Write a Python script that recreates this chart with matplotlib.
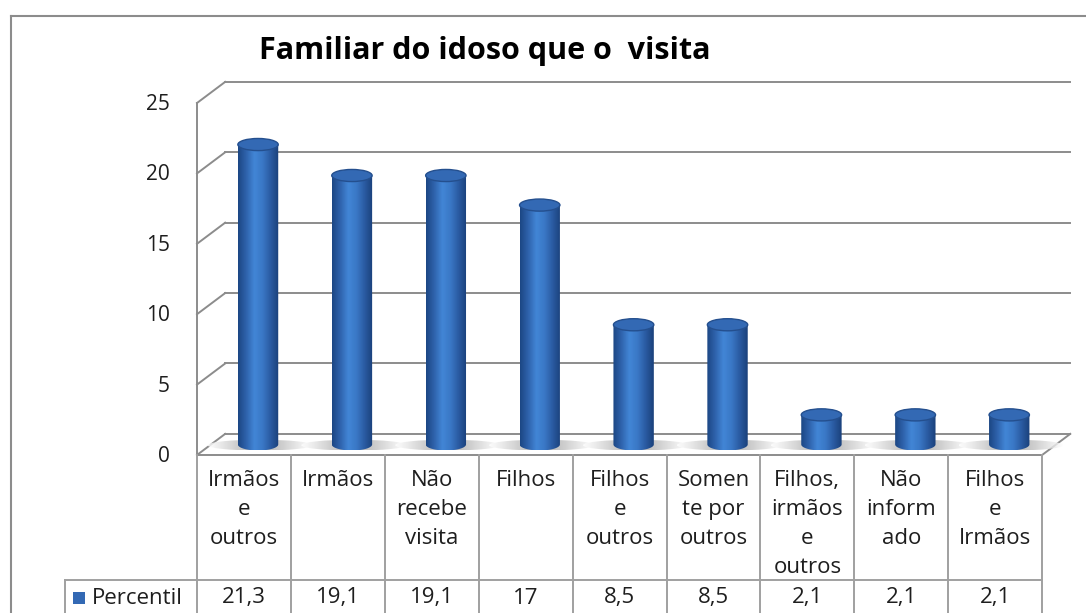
import numpy as np
import matplotlib
matplotlib.use("Agg")
import matplotlib.pyplot as plt
from matplotlib.patches import Ellipse, PathPatch, Rectangle
from matplotlib.path import Path
from matplotlib.colors import LinearSegmentedColormap
from matplotlib.lines import Line2D

# data
title = "Familiar do idoso que o  visita"
categories = ["Irmãos\ne\noutros", "Irmãos", "Não\nrecebe\nvisita", "Filhos",
              "Filhos\ne\noutros", "Somen\nte por\noutros", "Filhos,\nirmãos\ne\noutros",
              "Não\ninform\nado", "Filhos\ne\nIrmãos"]
values = [21.3, 19.1, 19.1, 17, 8.5, 8.5, 2.1, 2.1, 2.1]
labels = ["21,3", "19,1", "19,1", "17", "8,5", "8,5", "2,1", "2,1", "2,1"]
series_name = "Percentil"
yticks = [0, 5, 10, 15, 20, 25]

# layout in pixels
W, H = 1086, 613
X0_PX, COL_PX = 197, 93.9
Y0_PX, UNIT_PX = 455, 14.08
DX, DY = 0.3, 1.5          # depth offset (columns, value units)
HW, EH = 0.215, 0.43       # cylinder half width, ellipse half height

def px(x):
    return (x - X0_PX) / COL_PX

def py(y):
    return (Y0_PX - y) / UNIT_PX

plt.rcParams['font.family'] = ['Open Sans', 'DejaVu Sans']
fig = plt.figure(figsize=(W / 100, H / 100), dpi=100)
ax = fig.add_axes([0, 0, 1, 1])
ax.axis("off")

grid_c = "#8c8c8c"
txt_c = "#1e1e1e"
n = len(values)

# outer border
fig.add_artist(Line2D([11 / W, 11 / W], [0, 1 - 16 / H], color=grid_c, lw=1.5))
fig.add_artist(Line2D([11 / W, 1], [1 - 16 / H, 1 - 16 / H], color=grid_c, lw=1.5))

# walls and gridlines
for t in yticks:
    ax.plot([0, DX], [t, t + DY], color=grid_c, lw=1.4, zorder=1)
    ax.plot([DX, n + DX], [t + DY, t + DY], color=grid_c, lw=1.4, zorder=1)
    ax.text(px(170), t - 0.1, str(t), ha="right", va="center", fontsize=15, color=txt_c)
ax.plot([0, 0], [0, yticks[-1]], color=grid_c, lw=1.4, zorder=1)
# floor
ax.plot([0, n], [0, 0], color=grid_c, lw=1.4, zorder=1)
ax.plot([n, n + DX], [0, DY], color=grid_c, lw=1.4, zorder=1)

# cylinders
cmap = LinearSegmentedColormap.from_list(
    "cyl", ["#1c4784", "#2f63ad", "#4286d6", "#3a78c6", "#2a5ba2", "#1a417b"])
shade = LinearSegmentedColormap.from_list(
    "shade", ["#ffffff", "#c8c8c8", "#9a9a9a", "#c8c8c8", "#ffffff"])
grad = np.linspace(0, 1, 64)[None, :]
for i, v in enumerate(values):
    cx = i + 0.5 + DX / 2
    base = DY / 2
    top = v + DY / 2
    # floor shadow band
    sh = Ellipse((cx + 0.02, base - 0.05), 2 * HW * 2.6, 2 * EH * 0.9, fc="none", ec="none")
    ax.add_patch(sh)
    im_s = ax.imshow(grad, cmap=shade, aspect="auto", zorder=2, alpha=0.8,
                     extent=(cx + 0.02 - 2.6 * HW, cx + 0.02 + 2.6 * HW, base - EH, base + EH),
                     interpolation="bilinear")
    im_s.set_clip_path(sh)
    ang = np.linspace(np.pi, 2 * np.pi, 40)
    arc = np.column_stack([cx + HW * np.cos(ang), base + EH * np.sin(ang)])
    verts = np.vstack([[cx - HW, top], arc, [cx + HW, top], [cx - HW, top]])
    codes = [Path.MOVETO] + [Path.LINETO] * (len(verts) - 2) + [Path.CLOSEPOLY]
    body = PathPatch(Path(verts, codes), fc="none", ec="none", zorder=3)
    ax.add_patch(body)
    im = ax.imshow(grad, cmap=cmap, aspect="auto", zorder=3,
                   extent=(cx - HW, cx + HW, base - EH, top), interpolation="bilinear")
    im.set_clip_path(body)
    ax.add_patch(Ellipse((cx, top), 2 * HW, 2 * EH, fc="#3369b4", ec="#244f8e",
                         lw=1.0, zorder=4))

# data table
tab_c = "#a0a0a0"
row1 = py(580)
bottom = py(620)
for i in range(n + 1):
    ax.plot([i, i], [0, bottom], color=tab_c, lw=1.4, zorder=1)
ax.plot([px(65), n], [row1, row1], color=tab_c, lw=1.4, zorder=1)
ax.plot([px(65), px(65)], [row1, bottom], color=tab_c, lw=1.4, zorder=1)
for i, (c, lab) in enumerate(zip(categories, labels)):
    ax.text(i + 0.5, py(470), c, ha="center", va="top", fontsize=16,
            linespacing=1.49, color=txt_c)
    ax.text(i + 0.5, py(598), lab, ha="center", va="center", fontsize=16, color=txt_c)
ax.add_patch(Rectangle((px(73), py(604)), 12 / COL_PX, 12 / UNIT_PX,
                       fc="#3369b4", ec="none"))
ax.text(px(92), py(598), series_name, ha="left", va="center", fontsize=16, color=txt_c)

# title
ax.text(px(485), py(51), title, ha="center", va="center", fontsize=22,
        fontweight="bold", color="black")

ax.set_xlim(px(0), px(W))
ax.set_ylim(py(H), py(0))
fig.savefig("out.png", dpi=100)
